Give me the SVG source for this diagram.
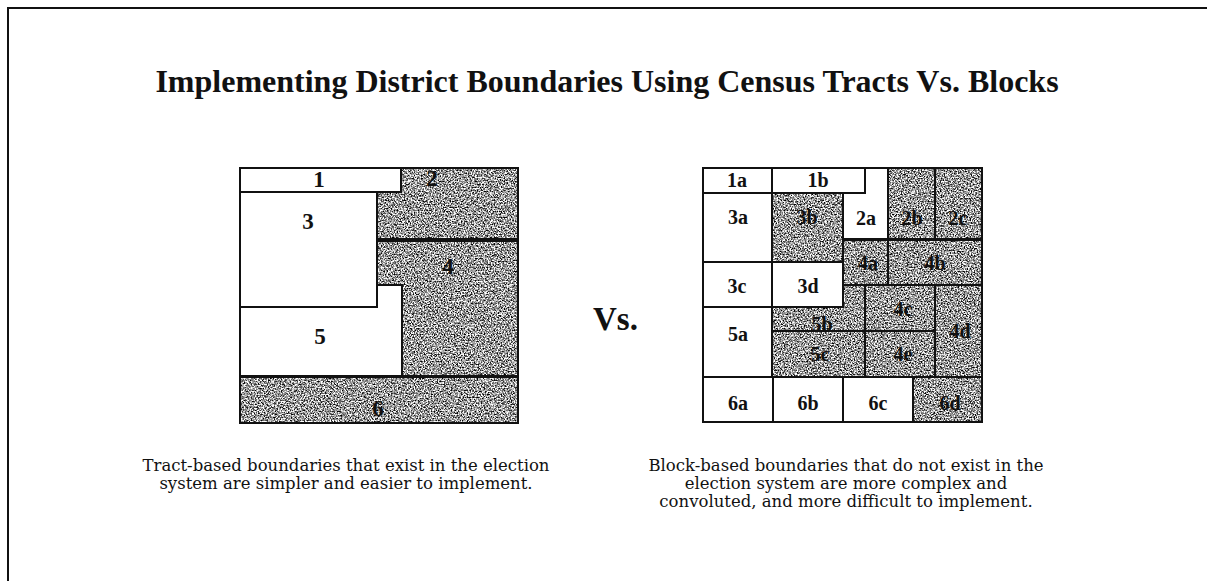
<svg xmlns="http://www.w3.org/2000/svg" width="1207" height="581" viewBox="0 0 1207 581">
<style>
.ln{fill:none;stroke:#111;stroke-width:2;stroke-linejoin:miter}
.wh{fill:#fff}
.sh{fill:#000;filter:url(#grain)}
.lb{font-family:"Liberation Serif","Times New Roman",serif;font-weight:bold;fill:#111;text-anchor:middle}
.big{font-size:23px}
.sm{font-size:20px}
.cap{font-family:"DejaVu Serif",serif;font-size:16.5px;fill:#111;text-anchor:middle}
</style>
<defs>
<filter id="grain" x="0" y="0" width="1" height="1" color-interpolation-filters="sRGB">
<feTurbulence type="fractalNoise" baseFrequency="0.7" numOctaves="2" seed="7" result="n"/>
<feColorMatrix in="n" type="matrix" values="2.6 0 0 0 -0.7  2.6 0 0 0 -0.7  2.6 0 0 0 -0.7  0 0 0 0 1" result="g"/>
<feComposite in="g" in2="SourceGraphic" operator="in"/>
</filter>
</defs>
<rect width="1207" height="581" fill="#fff"/>
<path d="M8,581 V8 H1207" fill="none" stroke="#111" stroke-width="2"/>
<text x="607" y="92" font-family="Liberation Serif, Times New Roman, serif" font-weight="bold" font-size="32" text-anchor="middle" fill="#111">Implementing District Boundaries Using Census Tracts Vs. Blocks</text>

<g id="tract-map">
<g id="t1"><rect class="wh" x="240" y="168" width="161" height="24"/><rect class="ln" x="240" y="168" width="161" height="24"/><text class="lb big" x="319" y="187">1</text></g>
<g id="t2"><path class="sh" d="M401,168 H518 V239 H377 V192 H401 Z"/><path class="ln" d="M401,168 H518 V239 H377 V192 H401 Z"/><text class="lb big" x="432" y="186">2</text></g>
<g id="t3"><rect class="wh" x="240" y="192" width="137" height="115"/><rect class="ln" x="240" y="192" width="137" height="115"/><text class="lb big" x="308" y="229">3</text></g>
<g id="t4"><path class="sh" d="M377,241 H518 V376 H402 V285 H377 Z"/><path class="ln" d="M377,241 H518 V376 H402 V285 H377 Z"/><text class="lb big" x="448" y="274">4</text></g>
<g id="t5"><path class="wh" d="M240,307 H377 V285 H402 V376 H240 Z"/><path class="ln" d="M240,307 H377 V285 H402 V376 H240 Z"/><text class="lb big" x="320" y="344">5</text></g>
<g id="t6"><rect class="sh" x="240" y="377" width="278" height="46"/><rect class="ln" x="240" y="377" width="278" height="46"/><text class="lb big" x="378" y="416">6</text></g>
</g>

<text x="593" y="330" font-family="Liberation Serif, Times New Roman, serif" font-weight="bold" font-size="33" fill="#111">Vs.</text>

<g id="block-map">
<g id="b1a"><rect class="wh" x="703" y="168" width="69" height="25"/><rect class="ln" x="703" y="168" width="69" height="25"/><text class="lb sm" x="737" y="187">1a</text></g>
<g id="b1b"><rect class="wh" x="772" y="168" width="93" height="25"/><rect class="ln" x="772" y="168" width="93" height="25"/><text class="lb sm" x="818" y="187">1b</text></g>
<g id="b2a"><path class="wh" d="M865,168 H888 V239 H843 V193 H865 Z"/><path class="ln" d="M865,168 H888 V239 H843 V193 H865 Z"/><text class="lb sm" x="866" y="225">2a</text></g>
<g id="b2b"><rect class="sh" x="888" y="168" width="47" height="71"/><rect class="ln" x="888" y="168" width="47" height="71"/><text class="lb sm" x="912" y="225">2b</text></g>
<g id="b2c"><rect class="sh" x="935" y="168" width="47" height="71"/><rect class="ln" x="935" y="168" width="47" height="71"/><text class="lb sm" x="958" y="225">2c</text></g>
<g id="b3a"><rect class="wh" x="703" y="193" width="69" height="69"/><rect class="ln" x="703" y="193" width="69" height="69"/><text class="lb sm" x="738" y="224">3a</text></g>
<g id="b3b"><rect class="sh" x="772" y="193" width="71" height="69"/><rect class="ln" x="772" y="193" width="71" height="69"/><text class="lb sm" x="807" y="224">3b</text></g>
<g id="b4a"><rect class="sh" x="843" y="240" width="45" height="45"/><rect class="ln" x="843" y="240" width="45" height="45"/><text class="lb sm" x="868" y="270">4a</text></g>
<g id="b4b"><rect class="sh" x="888" y="240" width="94" height="45"/><rect class="ln" x="888" y="240" width="94" height="45"/><text class="lb sm" x="935" y="270">4b</text></g>
<g id="b3c"><rect class="wh" x="703" y="262" width="69" height="45"/><rect class="ln" x="703" y="262" width="69" height="45"/><text class="lb sm" x="737" y="293">3c</text></g>
<g id="b3d"><rect class="wh" x="772" y="262" width="71" height="45"/><rect class="ln" x="772" y="262" width="71" height="45"/><text class="lb sm" x="808" y="293">3d</text></g>
<g id="b5b"><path class="sh" d="M843,285 H865 V331 H772 V307 H843 Z"/><path class="ln" d="M843,285 H865 V331 H772 V307 H843 Z"/><text class="lb sm" x="822" y="331">5b</text></g>
<g id="b4c"><rect class="sh" x="865" y="285" width="70" height="46"/><rect class="ln" x="865" y="285" width="70" height="46"/><text class="lb sm" x="903" y="316">4c</text></g>
<g id="b4d"><rect class="sh" x="935" y="285" width="47" height="92"/><rect class="ln" x="935" y="285" width="47" height="92"/><text class="lb sm" x="960" y="338">4d</text></g>
<g id="b5a"><rect class="wh" x="703" y="307" width="69" height="70"/><rect class="ln" x="703" y="307" width="69" height="70"/><text class="lb sm" x="738" y="341">5a</text></g>
<g id="b5c"><rect class="sh" x="772" y="331" width="93" height="46"/><rect class="ln" x="772" y="331" width="93" height="46"/><text class="lb sm" x="820" y="361">5c</text></g>
<g id="b4e"><rect class="sh" x="865" y="331" width="70" height="46"/><rect class="ln" x="865" y="331" width="70" height="46"/><text class="lb sm" x="903" y="361">4e</text></g>
<g id="b6a"><rect class="wh" x="703" y="377" width="70" height="45"/><rect class="ln" x="703" y="377" width="70" height="45"/><text class="lb sm" x="738" y="410">6a</text></g>
<g id="b6b"><rect class="wh" x="773" y="377" width="70" height="45"/><rect class="ln" x="773" y="377" width="70" height="45"/><text class="lb sm" x="808" y="410">6b</text></g>
<g id="b6c"><rect class="wh" x="843" y="377" width="70" height="45"/><rect class="ln" x="843" y="377" width="70" height="45"/><text class="lb sm" x="878" y="410">6c</text></g>
<g id="b6d"><rect class="sh" x="913" y="377" width="69" height="45"/><rect class="ln" x="913" y="377" width="69" height="45"/><text class="lb sm" x="950" y="410">6d</text></g>
</g>

<text class="cap"><tspan x="346" y="471">Tract-based boundaries that exist in the election</tspan><tspan x="346" y="489">system are simpler and easier to implement.</tspan></text>
<text class="cap"><tspan x="846" y="471">Block-based boundaries that do not exist in the</tspan><tspan x="846" y="489">election system are more complex and</tspan><tspan x="846" y="507">convoluted, and more difficult to implement.</tspan></text>
</svg>
